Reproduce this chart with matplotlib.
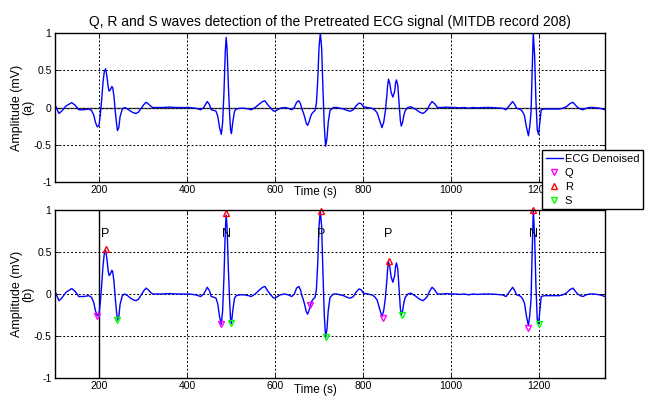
# coding: utf8

from matplotlib import pyplot as plt

plt.rcParams['font.family'] = ['Liberation Sans', 'DejaVu Sans']

# ECG Denoised signal
t = [100, 105, 109, 115, 125, 138, 146, 154, 165, 177, 183, 188, 192, 196, 200,
     203, 206, 209, 212, 215, 218, 221, 223, 226, 229, 231, 234, 237, 240, 242,
     245, 248, 253, 258, 265, 272, 278, 284, 290, 296, 302, 307, 312, 317, 322,
     330, 345, 360, 375, 390, 405,
     420, 431, 438, 446, 451, 455, 462, 466, 470, 474, 478, 481, 484, 487, 489,
     491, 494, 497, 499, 501, 504, 508, 512, 520, 530, 540, 546, 555, 565, 572,
     577, 583, 589, 592, 596, 600, 606, 612, 622, 630, 638, 644, 649, 654, 658,
     661, 664, 668, 671, 674, 677, 680, 683, 687, 691, 694, 697, 700, 703, 706,
     709, 712, 715, 718, 721, 725, 733,
     740, 748, 756, 764, 771, 778, 784, 791, 796, 801, 810, 820, 826, 832, 838,
     843, 847, 851, 854, 856, 858, 861, 864, 868, 872, 874, 876, 879, 882, 885,
     887, 890, 893, 896, 902, 909, 915, 921, 928, 936, 941, 946, 951, 957, 963,
     969, 980, 990, 1000, 1010, 1020, 1030,
     1040, 1050, 1060, 1075, 1090, 1105, 1117, 1125, 1132, 1140, 1145, 1149,
     1155, 1159, 1163, 1167, 1171, 1176, 1179, 1182, 1184, 1187, 1190, 1193,
     1196, 1199, 1202, 1205, 1212, 1225, 1238, 1246, 1254, 1262, 1270, 1277,
     1283, 1288, 1294, 1300, 1307, 1315, 1325, 1338, 1350]
ecg = [0.04, -0.03, -0.08, -0.05, 0.02, 0.065, 0.03, -0.03, -0.03, -0.02, -0.04,
       -0.1, -0.2, -0.26, -0.24, -0.1, 0.1, 0.33, 0.48, 0.52, 0.42, 0.27, 0.22,
       0.24, 0.28, 0.27, 0.15, -0.05, -0.22, -0.31, -0.27, -0.12, -0.02, 0.0,
       -0.02, -0.05, -0.07, -0.08, -0.06, -0.01, 0.04, 0.07, 0.05, 0.02, 0.0,
       0.0, 0.0, 0.005, 0.0, 0.0, 0.0,
       -0.01, -0.03, 0.0, 0.08, 0.04, -0.03, -0.04, -0.05, -0.12, -0.27, -0.36,
       -0.2, 0.2, 0.75, 0.94, 0.8, 0.3, -0.1, -0.3, -0.35, -0.2, -0.05, -0.02,
       -0.01, -0.01, -0.02, -0.03, 0.0, 0.05, 0.08, 0.09, 0.04, 0.0, -0.02,
       -0.045, -0.05, -0.03, -0.01, 0.0, -0.01, -0.03, 0.0, 0.07, 0.09, 0.05,
       -0.02, -0.06, -0.14, -0.21, -0.24, -0.2, -0.14, -0.09, -0.06, -0.04, 0.05,
       0.35, 0.8, 1.0, 0.8, 0.25, -0.25, -0.52, -0.42, -0.2, -0.04, 0.0,
       0.0, -0.01, -0.02, -0.04, -0.05, -0.03, 0.02, 0.06, 0.05, 0.01, 0.0,
       -0.01, -0.03, -0.07, -0.18, -0.27, -0.2, -0.04, 0.15, 0.3, 0.38, 0.32,
       0.2, 0.14, 0.22, 0.33, 0.37, 0.3, 0.05, -0.18, -0.25, -0.2, -0.1, -0.04,
       0.0, 0.01, -0.01, -0.03, -0.06, -0.08, -0.06, -0.03, 0.03, 0.08, 0.05,
       0.0, 0.0, 0.005, 0.0, 0.0, -0.005, 0.0,
       -0.01, 0.0, -0.005, 0.0, 0.0, -0.005, -0.01, -0.03, 0.02, 0.08, 0.04,
       -0.01, -0.02, -0.03, -0.06, -0.11, -0.25, -0.38, -0.25, -0.06, 0.4, 1.0,
       0.7, 0.1, -0.3, -0.36, -0.2, -0.03, -0.02, -0.02, -0.02, -0.02, -0.01,
       0.01, 0.05, 0.07, 0.03, 0.0, -0.02, -0.03, -0.01, 0.0, 0.0, -0.01, -0.03]

# detected waves
q_t = [196, 478, 680, 845, 1176]
q_v = [-0.26, -0.36, -0.13, -0.28, -0.40]
r_t = [215, 489, 704, 858, 1187]
r_v = [0.53, 0.97, 0.99, 0.39, 1.0]
s_t = [242, 501, 715, 889, 1199]
s_v = [-0.31, -0.35, -0.51, -0.25, -0.36]
beat_labels = ['P', 'N', 'P', 'P', 'N']

x_ticks = [200, 400, 600, 800, 1000, 1200]
y_ticks = [-1, -0.5, 0, 0.5, 1]
y_tick_labels = ['-1', '-0.5', '0', '0.5', '1']


def style_axes(ax, panel):
    ax.set_xlim(100, 1350)
    ax.set_ylim(-1, 1)
    ax.set_xticks(x_ticks)
    ax.set_yticks(y_ticks)
    ax.set_yticklabels(y_tick_labels)
    ax.tick_params(direction='in', length=3, width=0.6, labelsize=7.5,
                   top=True, right=True, pad=2.5)
    ax.grid(True, color='k', linestyle=(0, (2, 2)), linewidth=0.7)
    for sp in ax.spines.values():
        sp.set_linewidth(1.0)
    ax.set_ylabel("Amplitude (mV)\n(%s)" % panel, fontsize=9, linespacing=1.0)
    ax.yaxis.set_label_coords(-0.037, 0.5)
    ax.set_xlabel("Time (s)", fontsize=8.5)


def qrs_plot():
    fig = plt.figure(figsize=(6.5, 4.03), dpi=100)
    ax1 = fig.add_axes([55 / 650, 1 - 182 / 403, 550 / 650, 149 / 403])
    ax2 = fig.add_axes([55 / 650, 1 - 378 / 403, 550 / 650, 168 / 403])

    ax1.plot(t, ecg, color='#0000ff', lw=1.0)
    ax1.axhline(0, color='0.3', lw=1.0, zorder=1)
    style_axes(ax1, 'a')
    ax1.xaxis.set_label_coords(0.473, -0.03)
    ax1.xaxis.label.set_va('top')
    ax1.set_title("Q, R and S waves detection of the Pretreated ECG signal "
                  "(MITDB record 208)", fontsize=10, pad=5)

    l1, = ax2.plot(t, ecg, color='#0000ff', lw=1.0)
    ax2.axvline(200, color='k', lw=1.0, zorder=1)
    m1, = ax2.plot(q_t, q_v, 'v', ms=4.5, mfc='none', mec='#ff00ff', mew=1.0)
    m2, = ax2.plot(r_t, r_v, '^', ms=4.5, mfc='none', mec='#ff0000', mew=1.0,
                   clip_on=False)
    m3, = ax2.plot(s_t, s_v, 'v', ms=4.5, mfc='none', mec='#00ff00', mew=1.0)
    for x, lab in zip(r_t, beat_labels):
        ax2.text(x, 0.71, lab, ha='center', va='center', fontsize=9)
    style_axes(ax2, 'b')
    ax2.xaxis.set_label_coords(0.473, -0.035)
    ax2.xaxis.label.set_va('top')

    leg = fig.legend((l1, m1, m2, m3), ("ECG Denoised", "Q", "R", "S"),
                     loc='upper left', bbox_to_anchor=(542 / 650, 1 - 150 / 403),
                     fontsize=8, frameon=True, fancybox=False, framealpha=1,
                     edgecolor='k', borderpad=0.35, labelspacing=0.35,
                     handlelength=1.5, handletextpad=0.2, borderaxespad=0)
    leg.get_frame().set_linewidth(1.0)

    fig.savefig("out.png", dpi=100)


if __name__ == '__main__':
    qrs_plot()
